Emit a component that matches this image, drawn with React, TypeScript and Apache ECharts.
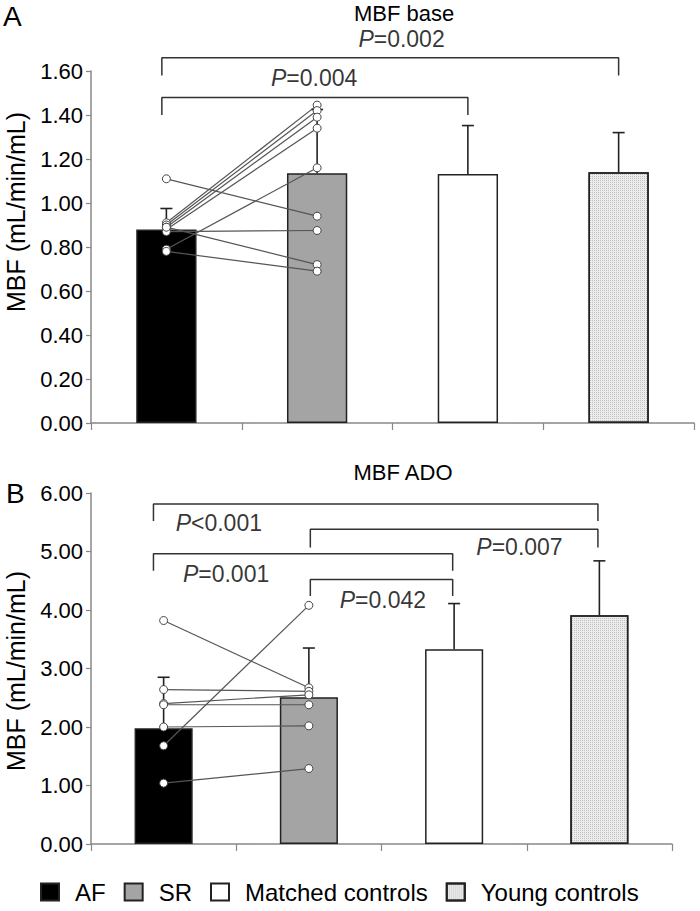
import React, { useEffect, useRef } from 'react';
import * as echarts from 'echarts';

const categories = ['AF', 'SR', 'Matched controls', 'Young controls'];

// Panel A: MBF base (mean, SD)
const baseMean = [0.88, 1.135, 1.132, 1.14];
const baseSD = [0.095, 0.29, 0.22, 0.18];
// individual paired patients (AF -> SR)
const baseAF = [0.91, 0.9, 0.89, 0.88, 0.79, 1.11, 0.87, 0.89, 0.78];
const baseSR = [1.445, 1.42, 1.39, 1.34, 1.16, 0.94, 0.875, 0.72, 0.69];

// Panel B: MBF ADO (mean, SD)
const adoMean = [1.98, 2.51, 3.33, 3.91];
const adoSD = [0.87, 0.84, 0.78, 0.93];
const adoAF = [3.82, 2.64, 2.4, 2.38, 2.0, 1.68, 1.04];
const adoSR = [2.67, 2.61, 2.55, 2.38, 2.02, 4.08, 1.29];

// significance brackets (x in category units, 0.5 = first category centre)
const baseP = ['P=0.004', 'P=0.002'];
const baseBrFrom = [0.47, 0.47];
const baseBrTo = [2.5, 3.5];
const baseBrTop = [1.48, 1.66];
const baseBrLeg = [1.4, 1.58];
const basePX = [1.48, 2.06];
const basePY = [1.568, 1.745];

const adoP = ['P<0.001', 'P=0.007', 'P=0.001', 'P=0.042'];
const adoBrFrom = [0.43, 1.51, 0.43, 1.51];
const adoBrTo = [3.49, 3.49, 2.49, 2.49];
const adoBrTop = [5.81, 5.38, 4.96, 4.52];
const adoBrLeg = [5.52, 5.07, 4.67, 4.24];
const adoPX = [0.88, 2.95, 0.93, 2.01];
const adoPY = [5.49, 5.08, 4.62, 4.17];

const FONT = 'Liberation Sans, Arial, Helvetica, sans-serif';
const barColors = ['#000000', '#a4a4a4', '#ffffff', '#ececec'];

function buildPanel(gi: number, mean: number[], sd: number[], af: number[], sr: number[],
  pLabels: string[], brFrom: number[], brTo: number[], brTop: number[], brLeg: number[],
  px: number[], py: number[]) {
  const xCat = gi * 2;
  const xVal = gi * 2 + 1;
  const series: any[] = [];
  categories.forEach((name, ci) => {
    const itemStyle: any = { color: barColors[ci], borderColor: '#222', borderWidth: 1.5 };
    if (ci === 3) {
      itemStyle.decal = { color: 'rgba(140,140,140,0.45)', symbol: 'rect', symbolSize: 1, dashArrayX: [1, 1], dashArrayY: [1, 1] };
    }
    series.push({
      type: 'bar', name, xAxisIndex: xCat, yAxisIndex: gi,
      barWidth: '40%', barGap: '-100%',
      data: categories.map((_, k) => (k === ci ? mean[k] : '-')),
      itemStyle,
      z: 2, silent: true,
    });
  });
  series.push({
    type: 'custom', xAxisIndex: xCat, yAxisIndex: gi, z: 3, silent: true,
    data: mean.map((m, i) => [i, m, sd[i]]),
    renderItem: (params: any, api: any) => {
      const i = api.value(0);
      const m = api.value(1);
      const e = api.value(2);
      const p0 = api.coord([i, m]);
      const p1 = api.coord([i, m + e]);
      const st = { stroke: '#222', lineWidth: 1.6 };
      return {
        type: 'group',
        children: [
          { type: 'line', shape: { x1: p0[0], y1: p0[1], x2: p1[0], y2: p1[1] }, style: st },
          { type: 'line', shape: { x1: p1[0] - 6, y1: p1[1], x2: p1[0] + 6, y2: p1[1] }, style: st },
        ],
      };
    },
  });
  af.forEach((v, i) => {
    series.push({
      type: 'line', xAxisIndex: xVal, yAxisIndex: gi, z: 4, silent: true,
      data: [[0.5, v], [1.5, sr[i]]],
      symbol: 'circle', symbolSize: 8,
      itemStyle: { color: '#fff', borderColor: '#444', borderWidth: 1 },
      lineStyle: { color: '#555', width: 1.2 },
      clip: false,
    });
  });
  pLabels.forEach((lab, i) => {
    series.push({
      type: 'line', xAxisIndex: xVal, yAxisIndex: gi, z: 5, silent: true,
      data: [[brFrom[i], brLeg[i]], [brFrom[i], brTop[i]], [brTo[i], brTop[i]], [brTo[i], brLeg[i]]],
      symbol: 'none', lineStyle: { color: '#333', width: 1.5 }, clip: false,
    });
  });
  series.push({
    type: 'scatter', xAxisIndex: xVal, yAxisIndex: gi, z: 6, silent: true,
    symbolSize: 1, itemStyle: { color: 'rgba(0,0,0,0)' }, clip: false,
    data: pLabels.map((lab, i) => ({ value: [px[i], py[i]], name: lab })),
    label: {
      show: true, position: 'inside',
      formatter: (p: any) => `{i|${p.name.charAt(0)}}{n|${p.name.slice(1)}}`,
      rich: {
        i: { fontStyle: 'italic', fontSize: 23, fontFamily: FONT, color: '#000' },
        n: { fontSize: 23, fontFamily: FONT, color: '#000' },
      },
    },
  });
  return series;
}

export default function App() {
  const ref = useRef<HTMLDivElement>(null);
  useEffect(() => {
    if (!ref.current) return;
    const chart = echarts.init(ref.current, null, { renderer: 'svg' });
    const axisLine = { lineStyle: { color: '#888', width: 1.5 } };
    const yCommon = (min: number, max: number, interval: number, gi: number) => ({
      type: 'value', gridIndex: gi, min, max, interval,
      axisLine: { show: true, ...axisLine },
      axisTick: { show: true, length: 5, lineStyle: { color: '#888', width: 1.2 } },
      splitLine: { show: false },
      axisLabel: { formatter: (v: number) => v.toFixed(2), fontSize: 22, color: '#000', fontFamily: FONT, margin: 8 },
    });
    const xCat = (gi: number) => ({
      type: 'category', gridIndex: gi, data: categories,
      axisLine: { show: true, ...axisLine },
      axisTick: { show: true, length: 7, lineStyle: { color: '#888', width: 1.2 } },
      axisLabel: { show: false },
    });
    const xVal = (gi: number) => ({ type: 'value', gridIndex: gi, min: 0, max: 4, show: false });
    const option: any = {
      animation: false,
      backgroundColor: '#fff',
      textStyle: { fontFamily: FONT },
      grid: [
        { left: 91, top: 71, width: 603, height: 352, outerBoundsMode: 'none', containLabel: false },
        { left: 91, top: 493, width: 581, height: 351, outerBoundsMode: 'none', containLabel: false },
      ],
      xAxis: [xCat(0), xVal(0), xCat(1), xVal(1)],
      yAxis: [yCommon(0, 1.6, 0.2, 0), yCommon(0, 6, 1, 1)],
      legend: {
        data: categories, left: 40, top: 880, itemWidth: 18, itemHeight: 17, itemGap: 18,
        icon: 'rect', selectedMode: false, padding: 0,
        textStyle: { fontSize: 24, color: '#000', fontFamily: FONT, padding: [0, 0, 0, 11] },
      },
      graphic: [
        { type: 'text', left: 3, top: 2, style: { text: 'A', fontSize: 28, fontFamily: FONT, fill: '#000' } },
        { type: 'text', left: 6, top: 479, style: { text: 'B', fontSize: 28, fontFamily: FONT, fill: '#000' } },
        { type: 'text', x: 404, y: 13, style: { text: 'MBF base', fontSize: 22, fontFamily: FONT, fill: '#000', align: 'center', verticalAlign: 'middle' } },
        { type: 'text', x: 403, y: 472, style: { text: 'MBF ADO', fontSize: 22, fontFamily: FONT, fill: '#000', align: 'center', verticalAlign: 'middle' } },
        { type: 'text', x: 16, y: 212, rotation: Math.PI / 2, style: { text: 'MBF (mL/min/mL)', fontSize: 25, fontFamily: FONT, fill: '#000', align: 'center', verticalAlign: 'middle' } },
        { type: 'text', x: 16, y: 671, rotation: Math.PI / 2, style: { text: 'MBF (mL/min/mL)', fontSize: 25, fontFamily: FONT, fill: '#000', align: 'center', verticalAlign: 'middle' } },
      ],
      series: [
        ...buildPanel(0, baseMean, baseSD, baseAF, baseSR, baseP, baseBrFrom, baseBrTo, baseBrTop, baseBrLeg, basePX, basePY),
        ...buildPanel(1, adoMean, adoSD, adoAF, adoSR, adoP, adoBrFrom, adoBrTo, adoBrTop, adoBrLeg, adoPX, adoPY),
      ],
    };
    chart.setOption(option);
    return () => chart.dispose();
  }, []);
  return <div ref={ref} style={{ position: 'fixed', left: 0, top: 0, width: 700, height: 911, background: '#fff' }} />;
}
